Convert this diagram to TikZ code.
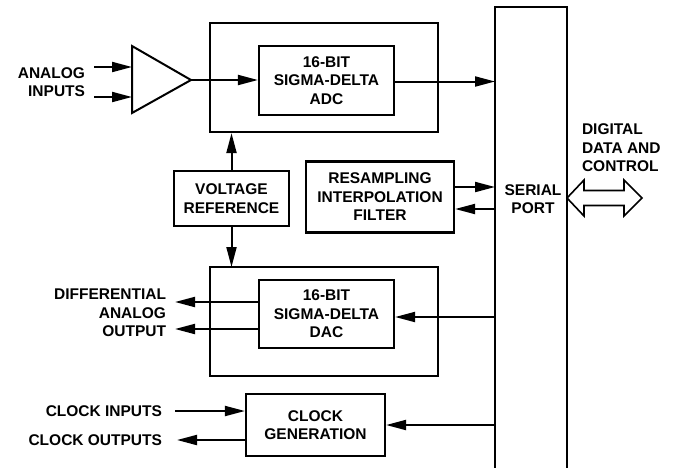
\documentclass[tikz,border=0pt]{standalone}
\usepackage{fontspec}
\setmainfont{Liberation Sans}
\usetikzlibrary{arrows.meta}
\begin{document}
\begin{tikzpicture}[x=1pt,y=-1pt,line width=2pt,
        every node/.style={font=\fontsize{15.5}{18.5}\selectfont\bfseries,align=center,inner sep=0pt},
        blk/.style={draw,line width=2.2pt},
        sig/.style={-{Triangle[length=20pt,width=10pt]}}]
    \useasboundingbox (0,0) rectangle (676,467);
    % serial port, open at the bottom
    \node[minimum width=70pt,minimum height=462pt] (serial) at (531,239) {};
    \draw[line width=2.2pt] (serial.south west) -- (serial.north west) -- (serial.north east) -- (serial.south east);
    \node (serialtxt) at (533,199) {SERIAL\\PORT};
    % adc
    \node[blk,minimum width=228pt,minimum height=109pt] (adcbox) at (324,77.5) {};
    \node[blk,minimum width=135pt,minimum height=69pt] (adc) at (326.5,80.5) {16-BIT\\SIGMA-DELTA\\ADC};
    \draw (132,46) coordinate (ampa) -- (191,80) coordinate (amptip) -- (132,113) coordinate (ampb) -- cycle;
    \coordinate (in1) at (94,67);
    \coordinate (in2) at (94,97);
    \node[anchor=east,align=right] (ain) at (86,82) {ANALOG\\INPUTS};
    \draw[sig] (in1) -- (in1 -| ampa);
    \draw[sig] (in2) -- (in2 -| ampa);
    \draw[sig] (amptip) -- (adc.west |- amptip);
    \draw[sig] ([yshift=-1pt]adc.east) -- ([yshift=-1pt]adc.east -| serial.west);
    % reference and filter
    \node[blk,minimum width=115pt,minimum height=55pt] (vref) at (231.5,198.5) {VOLTAGE\\REFERENCE};
    \node[blk,minimum width=148pt,minimum height=71pt] (resamp) at (380,197) {RESAMPLING\\INTERPOLATION\\FILTER};
    \draw[sig] (vref.north) -- (vref.north |- adcbox.south);
    \draw[sig] (vref.south) -- (vref.south |- 0,267);
    \draw[sig] ([yshift=10pt]resamp.east) -- ([yshift=10pt]resamp.east -| serial.west);
    \draw[sig] ([yshift=-12pt]resamp.east -| serial.west) -- ([yshift=-12pt]resamp.east);
    % dac
    \node[blk,minimum width=228pt,minimum height=109pt] (dacbox) at (324,321.5) {};
    \node[blk,minimum width=135pt,minimum height=68pt] (dac) at (326.5,314) {16-BIT\\SIGMA-DELTA\\DAC};
    \draw[sig] ([yshift=-3pt]dac.east -| serial.west) -- ([yshift=-3pt]dac.east);
    \coordinate (out1) at (175,302);
    \coordinate (out2) at (175,329);
    \node[anchor=east,align=right] (aout) at (167,313) {DIFFERENTIAL\\ANALOG\\OUTPUT};
    \draw[sig] (out1 -| dac.west) -- (out1);
    \draw[sig] (out2 -| dac.west) -- (out2);
    % clock
    \node[blk,minimum width=139pt,minimum height=62pt] (clk) at (315.5,425) {CLOCK\\GENERATION};
    \coordinate (cin) at (175,411);
    \coordinate (cout) at (177,440);
    \node[anchor=east] (cintxt) at (163,411) {CLOCK INPUTS};
    \node[anchor=east] (couttxt) at (163,440) {CLOCK OUTPUTS};
    \draw[sig] (cin) -- (cin -| clk.west);
    \draw[sig] (cout -| clk.west) -- (cout);
    \draw[sig] (clk.east -| serial.west) -- (clk.east);
    % digital data
    \draw[line width=1.6pt] (serial.east |- 0,198) -- (584,180) -- (584,190.5) -- (624,190.5) -- (624,180)
        -- (642,198) -- (624,216) -- (624,205.5) -- (584,205.5) -- (584,216) -- cycle;
    \node[anchor=west,align=left] (dig) at (581,148) {DIGITAL\\DATA AND\\CONTROL};
\end{tikzpicture}
\end{document}
